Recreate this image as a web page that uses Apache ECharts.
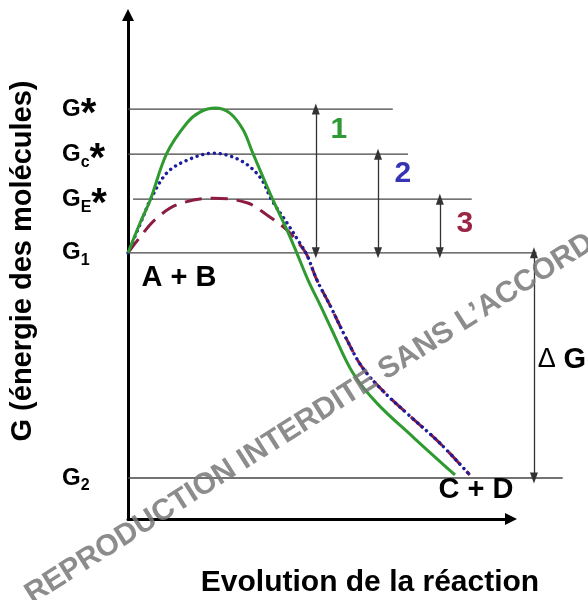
<!DOCTYPE html>
<html>
<head>
<meta charset="utf-8">
<script src="https://cdn.jsdelivr.net/npm/echarts@6/dist/echarts.min.js"></script>
<style>html,body{margin:0;padding:0;background:#fff}#c{width:588px;height:600px}</style>
</head>
<body>
<div id="c"></div>
<script>
// ---- data (arbitrary energy units) ----
const levelNames  = ['G*', 'Gc*', 'GE*', 'G1', 'G2'];
const levelValues = [81.0, 72.1, 63.2, 52.6, 8.1];
const levelStart  = [0, 0, 1.3, 0, 0];
const levelEnd    = [68.1, 72.0, 88.4, 105.1, 111.8];

const curve1 = [[0,52.6],[3.1,58.5],[5.7,63.0],[10.0,72.3],[15.2,78.3],[18.5,80.4],[22.4,81.2],[26.2,80.2],[29.6,76.9],[32.1,72.3],[37.3,63.0],[40.9,57.1],[43.4,52.6],[46.3,47.2],[49.4,42.3],[52.4,37.4],[57.8,28.9],[64.0,22.9],[73.3,16.2],[84.1,8.7]];
const curve2 = [[0,52.6],[3.9,59.7],[5.7,63.0],[10.0,68.4],[15.2,70.9],[21.9,72.3],[28.8,70.9],[33.9,67.6],[37.0,63.0],[40.9,58.5],[44.2,54.5],[46.0,52.2],[48.6,47.2],[51.9,42.3],[56.3,35.4],[60.4,29.8],[66.1,24.9],[71.7,20.9],[80.2,15.0],[87.9,8.7]];
const curve3 = [[0,52.6],[3.1,55.7],[6.9,59.1],[12.6,62.1],[21.9,63.4],[30.6,62.5],[35.7,60.1],[40.9,57.1],[44.2,54.2],[46.0,52.2],[48.6,47.2],[51.9,42.3],[56.3,35.4],[60.4,29.8],[66.1,24.9],[71.7,20.9],[80.2,15.0],[87.9,8.7]];

const arrowX    = [48.3, 64.3, 80.2, 104.4];
const arrowFrom = [81.0, 72.1, 63.2, 52.6];
const arrowTo   = [52.6, 52.6, 52.6, 8.1];

const annoText = ['1', '2', '3', 'A + B', 'C + D', 'ΔG'];
const annoX    = [54.2, 70.7, 86.6, 13.1, 89.5, 111.6];
const annoY    = [76.9, 68.2, 58.3, 47.6, 5.7, 31.5];

// ---- styles ----
const FONT = "'Liberation Sans', Arial, sans-serif";
const cGreen = '#2f9a2f', cBlue = '#1c1c9c', cRed = '#8c1d40';
const annoColor = ['#2f9a35', '#3434b4', '#9a2646', '#000', '#000', '#000'];
const annoSize = [30, 30, 30, 29, 29, 28];

function levelRich(name) {
  const sub = name.slice(1).replace('*', '');
  return '{g|G}' + (sub ? '{s|' + sub + '}' : '') + (name.endsWith('*') ? '{st|*}' : '');
}

const chart = echarts.init(document.getElementById('c'), null, {renderer: 'canvas'});

const series = [];
levelNames.forEach((n, i) => {
  series.push({
    type: 'line', name: n, silent: true, symbol: 'none', z: 1,
    xAxisIndex: 0, yAxisIndex: 0,
    lineStyle: {color: '#454545', width: 1.3},
    data: [[levelStart[i], levelValues[i]], [levelEnd[i], levelValues[i]]]
  });
});
series.push({
  type: 'line', name: 'arrows', silent: true, data: [], z: 2,
  xAxisIndex: 0, yAxisIndex: 0,
  markLine: {
    silent: true, symbol: ['triangle', 'triangle'], symbolSize: [8, 11],
    label: {show: false},
    lineStyle: {color: '#333', width: 1.3, type: 'solid'},
    data: arrowX.map((x, i) => [{coord: [x, arrowFrom[i]]}, {coord: [x, arrowTo[i]]}])
  }
});
series.push({
  type: 'line', name: '1', data: curve1, smooth: 0.35, symbol: 'none', z: 5,
  xAxisIndex: 0, yAxisIndex: 0,
  lineStyle: {color: cGreen, width: 3}
});
series.push({
  type: 'line', name: '2', data: curve2, smooth: 0.35, symbol: 'none', z: 4,
  xAxisIndex: 0, yAxisIndex: 0,
  lineStyle: {color: cBlue, width: 3.4, type: [0.1, 5.8], cap: 'round'}
});
series.push({
  type: 'line', name: '3', data: curve3, smooth: 0.35, symbol: 'none', z: 3,
  xAxisIndex: 0, yAxisIndex: 0,
  lineStyle: {color: cRed, width: 3, type: [17, 9]}
});
series.push({
  type: 'scatter', name: 'labels', silent: true, symbolSize: 1, z: 6,
  xAxisIndex: 0, yAxisIndex: 0,
  itemStyle: {color: 'rgba(0,0,0,0)', opacity: 1},
  data: annoText.map((t, i) => ({
    value: [annoX[i], annoY[i]],
    label: {
      show: true, position: 'inside',
      formatter: t === 'ΔG' ? '{d|Δ} {g|G}' : t,
      color: annoColor[i], fontSize: annoSize[i], fontWeight: 'bold', fontFamily: FONT,
      rich: {
        d: {fontSize: 27, fontWeight: 'normal', fontFamily: FONT, color: '#000'},
        g: {fontSize: 29, fontWeight: 'bold', fontFamily: FONT, color: '#000'}
      }
    }
  }))
});

const axisLineStyle = {color: '#000', width: 3};

chart.setOption({
  animation: false,
  backgroundColor: '#fff',
  grid: [
    {left: 128, right: 0, top: 15, bottom: 81},
    {left: 128, right: 77, top: 15, bottom: 81}
  ],
  xAxis: [
    {gridIndex: 0, type: 'value', min: 0, max: 118.3, show: false},
    {gridIndex: 1, type: 'value', min: 0, max: 98.5,
     axisLine: {show: true, symbol: ['none', 'triangle'], symbolSize: [12, 12], lineStyle: axisLineStyle},
     axisTick: {show: false}, axisLabel: {show: false}, splitLine: {show: false}}
  ],
  yAxis: [
    {gridIndex: 0, type: 'value', min: 0, max: 99.6,
     axisLine: {show: true, symbol: ['none', 'triangle'], symbolSize: [12, 12], lineStyle: axisLineStyle},
     axisTick: {show: false}, splitLine: {show: false},
     axisLabel: {
       show: true, customValues: levelValues, margin: 66, align: 'left',
       formatter: (v) => levelRich(levelNames[levelValues.indexOf(v)]),
       rich: {
         g: {fontSize: 24, fontWeight: 'bold', fontFamily: FONT, color: '#000', lineHeight: 32},
         s: {fontSize: 16, fontWeight: 'bold', fontFamily: FONT, color: '#000', lineHeight: 10, verticalAlign: 'bottom'},
         st: {fontSize: 40, fontWeight: 'bold', fontFamily: FONT, color: '#000', lineHeight: 6, verticalAlign: 'top', padding: [2, 0, 0, 0]}
       }
     }},
    {gridIndex: 1, type: 'value', min: 0, max: 99.6, show: false}
  ],
  graphic: [
    {type: 'text', x: 23, y: 261, rotation: Math.PI / 2, silent: true,
     style: {text: 'G (énergie des molécules)', font: "bold 29px 'Liberation Sans', Arial, sans-serif", fill: '#000', textAlign: 'center', textVerticalAlign: 'middle'}},
    {type: 'text', x: 370, y: 583, silent: true,
     style: {text: 'Evolution de la réaction', font: "bold 30px 'Liberation Sans', Arial, sans-serif", fill: '#000', textAlign: 'center', textVerticalAlign: 'middle'}},
    {type: 'text', x: 36, y: 610, rotation: 0.565, silent: true, z: 100,
     style: {text: 'REPRODUCTION INTERDITE SANS L’ACCORD', font: "bold 30px 'Liberation Sans', Arial, sans-serif", fill: 'rgba(120,120,120,0.85)', textAlign: 'left', textVerticalAlign: 'bottom'}}
  ],
  series: series
});
</script>
</body>
</html>
